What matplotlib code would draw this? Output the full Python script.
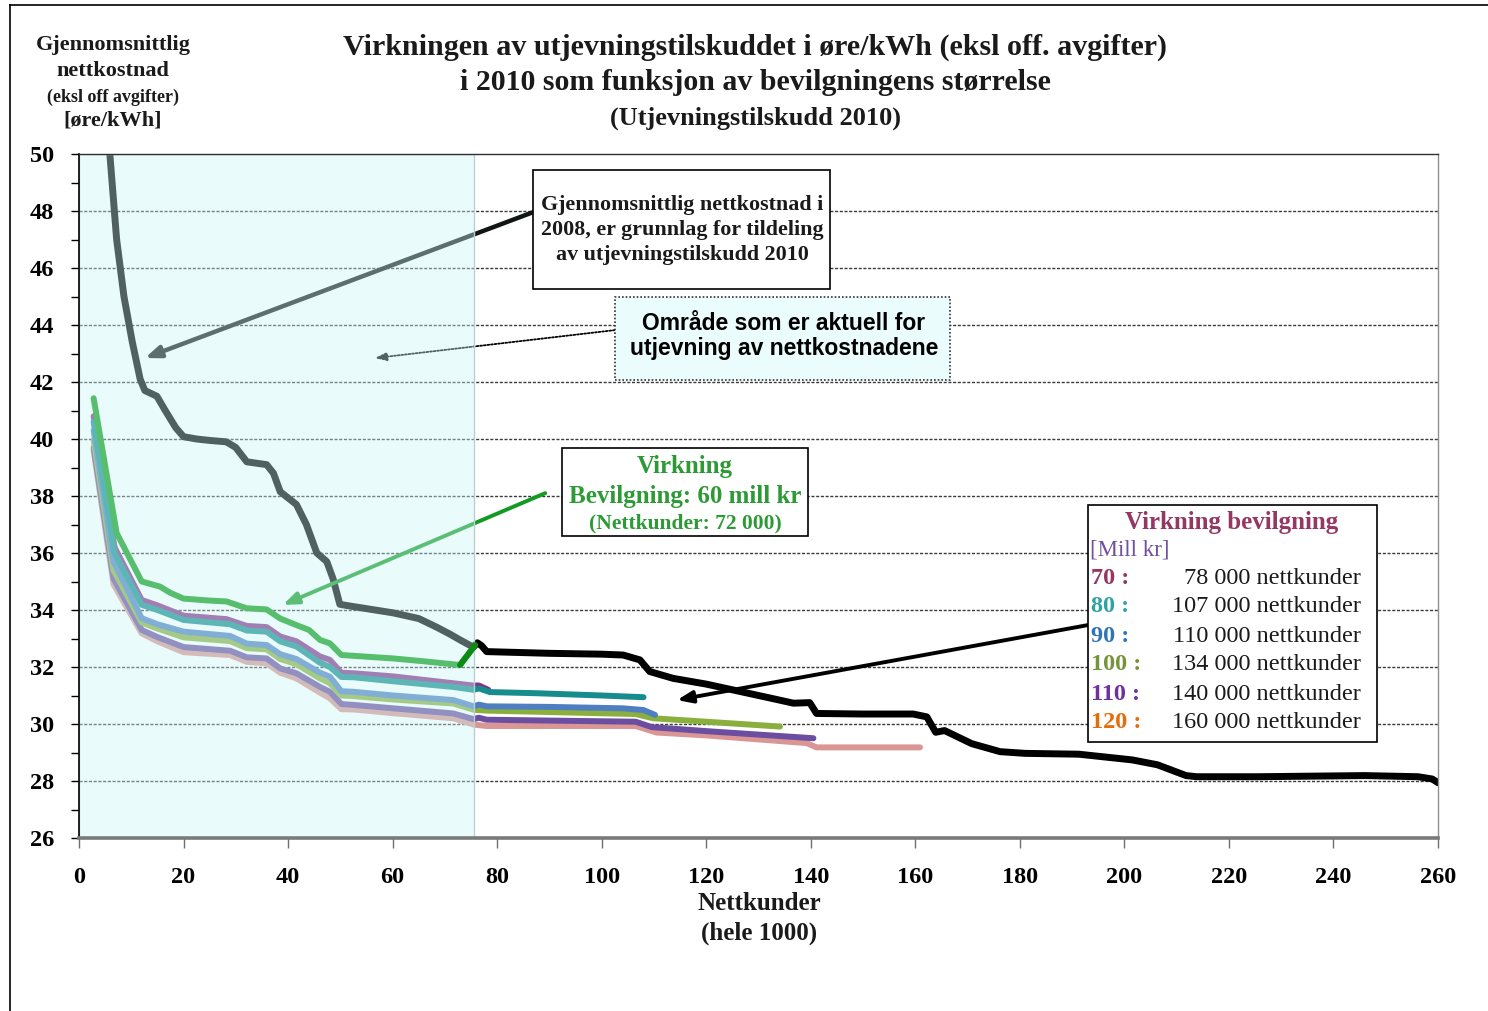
import matplotlib
matplotlib.use("Agg")
import matplotlib.pyplot as plt
from matplotlib.patches import Rectangle
from matplotlib.lines import Line2D
from matplotlib.ticker import MultipleLocator

SERIF = "Liberation Serif"
SANS = "Liberation Sans"

# ---------------- data ----------------
black_x = [5.9, 7.2, 8.6, 10.2, 11.7, 12.6, 14.9, 16.5, 18.5, 20, 22.5, 25, 28.2, 30, 32.1, 35.9, 37.2,
           38.5, 41.6, 43.5, 45.5, 47.4, 48.6, 49.9, 51.8, 60.1, 65, 68.4, 71, 72.9, 75.4, 76.2, 77, 78,
           90, 100, 104.1, 107.3, 109.2, 113.7, 120, 126.5, 132, 136.7, 139.8, 141.1, 150, 159.6, 162.2,
           163.9, 165.6, 170.8, 176.2, 181, 191.3, 201.5, 206.3, 211.8, 213.8, 225.5, 246, 256.2, 258.9, 260]
black_y = [50.0, 47.0, 45.0, 43.4, 42.1, 41.7, 41.5, 41.0, 40.4, 40.08, 40.0, 39.95, 39.9, 39.7, 39.2, 39.1, 38.8,
           38.15, 37.7, 37.0, 36.0, 35.7, 35.1, 34.2, 34.14, 33.9, 33.7, 33.4, 33.15, 32.95, 32.7, 32.85, 32.75, 32.54,
           32.48, 32.45, 32.42, 32.25, 31.84, 31.6, 31.4, 31.14, 30.92, 30.73, 30.75, 30.37, 30.35, 30.35, 30.25,
           29.71, 29.77, 29.31, 29.03, 28.97, 28.94, 28.74, 28.57, 28.19, 28.15, 28.15, 28.19, 28.15, 28.07, 27.94]

g60_x = [2.8, 7.2, 12, 15.5, 17.5, 20, 25, 28.2, 32.1, 35.9, 38.5, 41.6, 44, 46.1, 48, 50.2, 60.1, 66, 72.9, 75.8]
g60_y = [41.43, 36.7, 35.0, 34.82, 34.6, 34.4, 34.33, 34.3, 34.06, 34.02, 33.7, 33.47, 33.3, 32.95, 32.83, 32.42,
         32.3, 32.2, 32.07, 32.77]

p70_x = [2.8, 6.8, 12, 14.9, 20, 28.2, 32.1, 35.9, 38.5, 41.6, 46.1, 48, 50.2, 52.5, 60.1, 71.6, 75.4, 76.5, 78.3]
p70_y = [40.8, 36.2, 34.35, 34.17, 33.8, 33.68, 33.44, 33.4, 33.07, 32.9, 32.37, 32.25, 31.8, 31.78, 31.67, 31.43,
         31.35, 31.35, 31.2]

t80_x = [2.8, 6.8, 12, 15, 20, 28.9, 32.1, 35.9, 38.5, 41.6, 46.1, 48, 50.2, 52.5, 60.1, 71.6, 75.5, 76.5, 78.6,
         87.5, 100, 108]
t80_y = [40.6, 36.0, 34.18, 34.0, 33.65, 33.5, 33.28, 33.24, 32.9, 32.72, 32.15, 32.0, 31.65, 31.64, 31.5, 31.3,
         31.2, 31.25, 31.12, 31.08, 31.0, 30.94]

b90_x = [2.8, 6.6, 12, 15, 20, 28.9, 32.1, 35.9, 38.5, 41.6, 46.1, 48, 50.2, 52.5, 60.1, 71.6, 75.5, 76.5, 78,
         90, 104.1, 108, 110.2]
b90_y = [40.3, 35.7, 33.71, 33.5, 33.24, 33.09, 32.82, 32.77, 32.45, 32.28, 31.8, 31.66, 31.15, 31.13, 31.0, 30.84,
         30.62, 30.68, 30.62, 30.6, 30.55, 30.49, 30.32]

o100_x = [2.8, 6.6, 12, 15, 20, 28.9, 32.1, 35.9, 38.5, 41.6, 46.1, 48, 50.2, 52.5, 60.1, 71.6, 75.5, 78, 90,
          106.5, 109.9, 120, 134.1]
o100_y = [39.96, 35.4, 33.56, 33.35, 33.04, 32.91, 32.66, 32.62, 32.28, 32.1, 31.6, 31.43, 31.0, 30.98, 30.86,
          30.72, 30.5, 30.47, 30.42, 30.35, 30.2, 30.08, 29.91]

v110_x = [2.8, 6.6, 12, 15, 20, 28.9, 32.1, 35.9, 38.5, 41.6, 46.1, 48, 50.2, 52.5, 60.1, 71.6, 75.5, 76.5, 78,
          90, 106.5, 109.6, 120, 140.5]
v110_y = [39.7, 35.1, 33.3, 33.05, 32.7, 32.57, 32.34, 32.3, 31.95, 31.78, 31.3, 31.13, 30.7, 30.67, 30.55, 30.37,
          30.17, 30.22, 30.15, 30.12, 30.08, 29.89, 29.75, 29.5]

r120_x = [2.8, 6.6, 12, 15, 20, 28.9, 32.1, 35.9, 38.5, 41.6, 46.1, 48, 50.2, 52.5, 60.1, 71.6, 75.5, 78, 90,
          106.5, 110.5, 120, 139.2, 141.1, 160.9]
r120_y = [39.6, 34.9, 33.18, 32.9, 32.52, 32.42, 32.18, 32.13, 31.8, 31.6, 31.1, 30.9, 30.52, 30.51, 30.38, 30.2,
          29.98, 29.93, 29.93, 29.93, 29.7, 29.6, 29.33, 29.18, 29.18]

shade_x_max = 75.6

legend_keys = ["70 :", "80 :", "90 :", "100 :", "110 :", "120 :"]
legend_vals = ["78 000 nettkunder", "107 000 nettkunder", "110 000 nettkunder",
               "134 000 nettkunder", "140 000 nettkunder", "160 000 nettkunder"]
legend_key_colors = ["#953763", "#31a2a2", "#2e75b6", "#77933c", "#7030a0", "#e46c0a"]

x_ticks = list(range(0, 261, 20))
y_ticks = list(range(26, 51, 2))

# ---------------- figure ----------------
W, H = 1488, 1011
fig = plt.figure(figsize=(W / 100, H / 100), dpi=100)


def fx(x):
    return x / W


def fy(y):
    return 1 - y / H


ax = fig.add_axes([fx(79), fy(838), fx(1438) - fx(79), fy(154) - fy(838)])
ax.set_xlim(0, 260)
ax.set_ylim(26, 50)

# gridlines
for yv in y_ticks[1:-1]:
    ax.axhline(yv, color="#3a3a3a", lw=1.0, ls=(0, (2.2, 1.2)), zorder=1)

lw_c = 4.3
series = [
    (r120_x, r120_y, "#d99694"),
    (v110_x, v110_y, "#6b4ea0"),
    (o100_x, o100_y, "#8aaf3c"),
    (b90_x, b90_y, "#4f7fc0"),
    (p70_x, p70_y, "#86308a"),
    (t80_x, t80_y, "#168c8c"),
    (g60_x, g60_y, "#0a9a14"),
]
for xs, ys, c in series:
    ax.plot(xs, ys, color=c, lw=lw_c, solid_capstyle="round", solid_joinstyle="round", zorder=2)
ax.plot(black_x, black_y, color="black", lw=5.0, solid_capstyle="round", solid_joinstyle="round", zorder=2.5)

# arrows (under the shading)
ax.annotate("", xy=(12.6, 42.84), xytext=(86.9, 47.96),
            arrowprops=dict(arrowstyle="-|>,head_length=0.9,head_width=0.35", color="#101616", lw=3.2,
                            shrinkA=0, shrinkB=0), zorder=2.6)
ax.annotate("", xy=(39.0, 34.18), xytext=(89.2, 38.1),
            arrowprops=dict(arrowstyle="-|>,head_length=0.9,head_width=0.35", color="#129a22", lw=2.8,
                            shrinkA=0, shrinkB=0), zorder=2.6)
ax.annotate("", xy=(56.6, 42.84), xytext=(102.5, 43.82),
            arrowprops=dict(arrowstyle="-|>,head_length=0.7,head_width=0.25", color="black", lw=1.3,
                            ls=(0, (1, 1)), shrinkA=0, shrinkB=0), zorder=2.6)
ax.annotate("", xy=(114.4, 30.84), xytext=(193.0, 33.47),
            arrowprops=dict(arrowstyle="-|>,head_length=0.9,head_width=0.35", color="black", lw=2.8,
                            shrinkA=0, shrinkB=0), zorder=2.6)

# shaded region
ax.add_patch(Rectangle((0, 26), shade_x_max, 24, facecolor=(0.80, 0.96, 0.96), alpha=0.4,
                       edgecolor="none", zorder=3))
ax.add_patch(Rectangle((0, 26), shade_x_max, 24, facecolor="none", edgecolor="#b8d0d0", lw=1.0, zorder=3.1))

# green connector on top
ax.plot(g60_x[-2:], g60_y[-2:], color="#0c8a14", lw=lw_c, solid_capstyle="round", zorder=4)

# axes style
for side in ["top", "right", "left", "bottom"]:
    ax.spines[side].set_zorder(5)
ax.spines["left"].set_color("black")
ax.spines["left"].set_linewidth(1.2)
ax.spines["top"].set_color("#303030")
ax.spines["top"].set_linewidth(1.0)
ax.spines["right"].set_color("#909090")
ax.spines["right"].set_linewidth(1.0)
ax.spines["bottom"].set_color("#7a7a7a")
ax.spines["bottom"].set_linewidth(2.6)

ax.set_xticks(x_ticks)
ax.set_yticks(y_ticks)
ax.yaxis.set_minor_locator(MultipleLocator(1))
ax.tick_params(axis="y", which="both", direction="out", length=6, width=1, color="black", pad=12)
ax.tick_params(axis="x", which="major", direction="out", length=7, width=1, color="#707070", pad=14)
for lab in ax.get_xticklabels() + ax.get_yticklabels():
    lab.set_fontfamily(SERIF)
    lab.set_fontweight("bold")
    lab.set_fontsize(17.5)

# ---------------- texts ----------------
tcol = "#1a1a1a"
fig.text(fx(755), fy(47), "Virkningen av utjevningstilskuddet i øre/kWh (eksl off. avgifter)",
         ha="center", va="center", fontfamily=SERIF, fontweight="bold", fontsize=21.6, color=tcol)
fig.text(fx(755), fy(83), "i 2010 som funksjon av bevilgningens størrelse",
         ha="center", va="center", fontfamily=SERIF, fontweight="bold", fontsize=21.5, color=tcol)
fig.text(fx(755), fy(118), "(Utjevningstilskudd 2010)",
         ha="center", va="center", fontfamily=SERIF, fontweight="bold", fontsize=19, color=tcol)

fig.text(fx(113), fy(45), "Gjennomsnittlig", ha="center", va="center", fontfamily=SERIF,
         fontweight="bold", fontsize=16, color=tcol)
fig.text(fx(113), fy(71), "nettkostnad", ha="center", va="center", fontfamily=SERIF,
         fontweight="bold", fontsize=16, color=tcol)
fig.text(fx(113), fy(97), "(eksl off avgifter)", ha="center", va="center", fontfamily=SERIF,
         fontweight="bold", fontsize=13, color=tcol)
fig.text(fx(113), fy(121), "[øre/kWh]", ha="center", va="center", fontfamily=SERIF,
         fontweight="bold", fontsize=16, color=tcol)

fig.text(fx(759), fy(903), "Nettkunder", ha="center", va="center", fontfamily=SERIF,
         fontweight="bold", fontsize=18, color=tcol)
fig.text(fx(759), fy(933), "(hele 1000)", ha="center", va="center", fontfamily=SERIF,
         fontweight="bold", fontsize=18, color=tcol)


def box(x0, y0, x1, y1, fc="white", ec="black", lw=1.2, ls="-", z=6):
    fig.add_artist(Rectangle((fx(x0), fy(y1)), fx(x1) - fx(x0), fy(y0) - fy(y1),
                             transform=fig.transFigure, facecolor=fc, edgecolor=ec, lw=lw, ls=ls, zorder=z))


# box 1
box(533, 170, 830, 289)
for i, s in enumerate(["Gjennomsnittlig nettkostnad i", "2008, er grunnlag for tildeling",
                       "av utjevningstilskudd 2010"]):
    fig.text(fx(682), fy(205 + i * 25), s, ha="center", va="center", fontfamily=SERIF,
             fontweight="bold", fontsize=15.8, color=tcol, zorder=7)

# box 2
box(615, 297, 950, 380, fc="#eafcfc", ec="#333333", lw=1.2, ls=(0, (1, 1.2)))
fig.text(fx(784), fy(323), "Område som er aktuell for", ha="center", va="center", fontfamily=SANS,
         fontweight="bold", fontsize=16.5, color="black", zorder=7)
fig.text(fx(784), fy(348), "utjevning av nettkostnadene", ha="center", va="center", fontfamily=SANS,
         fontweight="bold", fontsize=16.5, color="black", zorder=7)

# box 3
gcol = "#2e9a36"
box(562, 448, 808, 536)
fig.text(fx(685), fy(467), "Virkning", ha="center", va="center", fontfamily=SERIF,
         fontweight="bold", fontsize=18, color=gcol, zorder=7)
fig.text(fx(685), fy(496), "Bevilgning: 60 mill kr", ha="center", va="center", fontfamily=SERIF,
         fontweight="bold", fontsize=18, color=gcol, zorder=7)
fig.text(fx(685), fy(523), "(Nettkunder: 72 000)", ha="center", va="center", fontfamily=SERIF,
         fontweight="bold", fontsize=15.5, color=gcol, zorder=7)

# legend box
box(1088, 505, 1377, 742)
fig.text(fx(1232), fy(523), "Virkning bevilgning", ha="center", va="center", fontfamily=SERIF,
         fontweight="bold", fontsize=18, color="#953763", zorder=7)
fig.text(fx(1090), fy(550), "[Mill kr]", ha="left", va="center", fontfamily=SERIF,
         fontsize=16.5, color="#7050a0", zorder=7)
for i, (k, v, c) in enumerate(zip(legend_keys, legend_vals, legend_key_colors)):
    yy = 578 + i * 29
    fig.text(fx(1091), fy(yy), k, ha="left", va="center", fontfamily=SERIF, fontweight="bold",
             fontsize=17.5, color=c, zorder=7)
    fig.text(fx(1361), fy(yy), v, ha="right", va="center", fontfamily=SERIF,
             fontsize=17.5, color=tcol, zorder=7)

# outer frame
fig.add_artist(Line2D([fx(10), fx(1488)], [fy(5), fy(5)], transform=fig.transFigure, color="black", lw=1.2))
fig.add_artist(Line2D([fx(10), fx(10)], [fy(5), fy(1011)], transform=fig.transFigure, color="black", lw=1.2))

fig.savefig("out.png", dpi=100)
